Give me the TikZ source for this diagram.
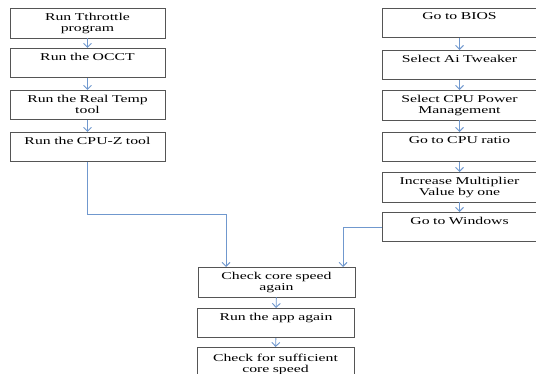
\documentclass[tikz,border=0pt]{standalone}
\usepackage{fontspec}
\setmainfont{Liberation Serif}[FakeStretch=1.5]
\usetikzlibrary{arrows.meta, positioning, shadows}

\definecolor{linkblue}{RGB}{112,152,206}
\definecolor{boxline}{RGB}{85,85,85}

\tikzset{
  stepbox/.style={draw=boxline, line width=0.8pt, fill=white,
    drop shadow={shadow xshift=0.8pt, shadow yshift=-0.8pt, fill=black!30},
    anchor=north, text width=150pt, align=center, inner xsep=2pt,
    inner ysep=4.5pt, minimum height=29pt,
    font=\fontsize{10.5}{11}\selectfont},
  oneline/.style={stepbox, text depth=13pt},
  link/.style={draw=linkblue, line width=0.9pt,
    -{Straight Barb[length=4pt,width=8pt]}},
}

\begin{document}
\begin{tikzpicture}[x=1pt,y=-1pt]
\useasboundingbox (0,0) rectangle (536,374);
% left column
\node[stepbox, minimum width=155pt] (throttle) at (87.5,8) {Run Tthrottle\\program};
\node[oneline, minimum width=155pt] (occt) at (87.5,48) {Run the OCCT};
\node[stepbox, minimum width=155pt] (realtemp) at (87.5,90) {Run the Real Temp\\tool};
\node[oneline, minimum width=155pt] (cpuz) at (87.5,132) {Run the CPU-Z tool};
% right column
\node[oneline, minimum width=151pt] (bios) at (459.5,8) {Go to BIOS};
\node[oneline, minimum width=151pt] (tweaker) at (459.5,50) {Select Ai Tweaker};
\node[stepbox, minimum width=151pt] (power) at (459.5,90) {Select CPU Power\\Management};
\node[oneline, minimum width=151pt] (ratio) at (459.5,132) {Go to CPU ratio};
\node[stepbox, minimum width=151pt] (multiplier) at (459.5,172) {Increase Multiplier\\Value by one};
\node[oneline, minimum width=151pt] (windows) at (459.5,212) {Go to Windows};
% bottom column
\node[stepbox, minimum width=157pt] (check) at (276.5,267) {Check core speed\\again};
\node[oneline, minimum width=157pt] (app) at (276,308) {Run the app again};
\node[stepbox, minimum width=157pt, minimum height=34pt] (enough) at (275.5,347) {Check for sufficient\\core speed};

\draw[link] (throttle) -- (occt);
\draw[link] (occt) -- (realtemp);
\draw[link] (realtemp) -- (cpuz);
\draw[link] (bios) -- (tweaker);
\draw[link] (tweaker) -- (power);
\draw[link] (power) -- (ratio);
\draw[link] (ratio) -- (multiplier);
\draw[link] (multiplier) -- (windows);
\draw[link] (check) -- (app);
\draw[link] (app) -- (enough);
% joining lines
\draw[link] (cpuz.south) -- ++(0,52) -| ([xshift=-50.5pt]check.north);
\draw[link] (windows.west) -| ([xshift=66.5pt]check.north);
\end{tikzpicture}
\end{document}
